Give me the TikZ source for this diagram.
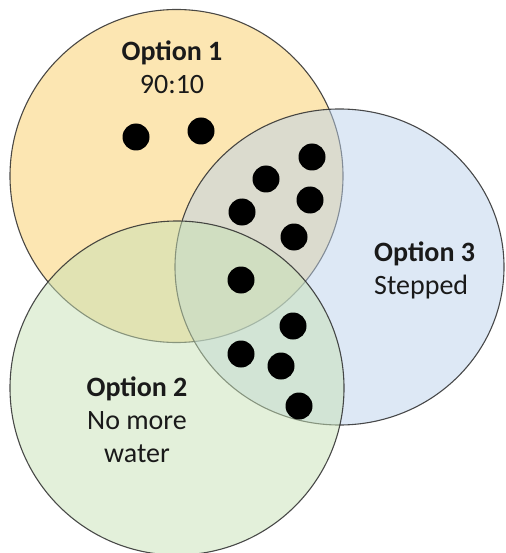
\documentclass[tikz,border=0pt]{standalone}
\usepackage{fontspec}
\setmainfont{Carlito}
\definecolor{orangeC}{HTML}{F9CD66}
\definecolor{greenC}{HTML}{C7E1B5}
\definecolor{blueC}{HTML}{BBD1EB}
\definecolor{lineC}{HTML}{2B2B2B}
\definecolor{txtC}{HTML}{1A1A1A}
\begin{document}
\begin{tikzpicture}[x=1pt,y=-1pt,
  setcircle/.style={draw=lineC, line width=1.1pt, draw opacity=0.85, fill opacity=0.5},
  dot/.style={circle, fill=black, minimum size=27pt, inner sep=0pt},
  lbl/.style={text=txtC, font=\fontsize{28}{33}\selectfont, inner sep=0pt}
]
\useasboundingbox (0,0) rectangle (505,553);
\begin{scope}
\clip (0,0) rectangle (505,553);
\path[setcircle, fill=orangeC] (176.5,176) circle[radius=166.5];
\path[setcircle, fill=blueC] (339.5,267) ellipse[x radius=164.5, y radius=158];
\path[setcircle, fill=greenC] (177,388) circle[radius=167];
\end{scope}
% dots
\node[dot] (d1) at (136,137) {};
\node[dot] (d2) at (201,131) {};
\node[dot] (d3) at (312,157) {};
\node[dot] (d4) at (266,179) {};
\node[dot] (d5) at (310,200) {};
\node[dot] (d6) at (242,212) {};
\node[dot] (d7) at (294,237) {};
\node[dot] (d8) at (241,280) {};
\node[dot] (d9) at (293,326) {};
\node[dot] (d10) at (241,354) {};
\node[dot] (d11) at (281,366) {};
\node[dot] (d12) at (299,406) {};
% labels
\node[lbl, align=center] (o1) at (172,67) {\textbf{Option 1}\\90:10};
\node[lbl, align=left, anchor=west] (o3) at (374,270) {\textbf{Option 3}\\Stepped};
\node[lbl, align=center] (o2) at (137,420) {\textbf{Option 2}\\No more\\water};
\end{tikzpicture}
\end{document}
